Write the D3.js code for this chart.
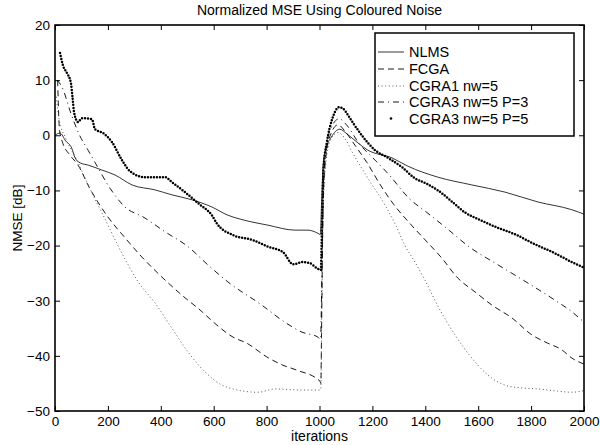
<!DOCTYPE html>
<html>
<head>
<meta charset="utf-8">
<script src="https://cdn.jsdelivr.net/npm/d3@7"></script>
<style>
  body { margin: 0; background: #fff; }
  svg { display: block; font-family: "Liberation Sans", Arial, sans-serif; }
</style>
</head>
<body>
<div id="chart"></div>
<script>
// series values: [iteration, NMSE dB]
var nlms = [[0,0],[19,0.4],[40,-1],[63,-2.3],[76,-4.1],[95,-5],[125,-5.4],[177,-6.3],[227,-7.2],[291,-9],[378,-9.9],[442,-10.8],
  [518,-11.7],[593,-13],[654,-14.5],[700,-15.2],[805,-16.3],[907,-17.2],[956,-17.2],[995,-17.8],[1003,-18],
  [1008,-12],[1013,-6],[1022,-2.8],[1045,-0.3],[1077,1.1],[1100,0.4],[1123,-0.5],[1183,-2.7],[1274,-4.1],[1334,-5.6],
  [1448,-7.6],[1576,-9],[1701,-10.3],[1826,-12.1],[1954,-13.5],[2000,-14.3]];

var fcga = [[10,10],[13,5],[17,1],[30,-1.5],[55,-3.5],[87,-5.4],[130,-9.5],[200,-14.8],[265,-18.6],[329,-22.1],[404,-25.7],
  [480,-29],[556,-32],[597,-33.8],[673,-36.6],[725,-37.7],[801,-40.2],[862,-41.7],[915,-42.6],[1002,-44.6],[1005,-45],
  [1009,-30],[1014,-12],[1024,-4],[1045,0.5],[1070,1.9],[1100,0.5],[1134,-1.8],[1180,-5],[1230,-9],[1280,-12.5],
  [1342,-16],[1400,-19],[1463,-22.3],[1523,-25.9],[1588,-28.4],[1652,-30.8],[1727,-33.1],[1803,-36.2],[1863,-37.7],
  [1916,-38.9],[1954,-40.4],[2000,-41.5]];

var cgra1 = [[5,7],[15,3],[40,-0.5],[83,-4.5],[130,-9.5],[182,-14.5],[253,-21.4],[315,-26.6],[378,-30.4],[442,-35],
  [503,-39.3],[567,-42.9],[631,-45.3],[673,-46],[767,-46.6],[832,-46],[934,-46.2],[1002,-46.2],[1005,-46],
  [1009,-30],[1014,-14],[1024,-5],[1045,-0.5],[1070,0.5],[1095,-0.5],[1123,-3],[1183,-7.8],[1247,-12.6],[1290,-16.5],
  [1323,-20],[1361,-23],[1398,-26.2],[1448,-31],[1512,-36.2],[1576,-40.4],[1637,-43.5],[1701,-45.3],[1760,-45.8],
  [1826,-46],[1900,-46.4],[1954,-46.6],[2000,-46.3]];

var cgra3p3 = [[8,10],[26,8.8],[60,4],[90,0.3],[125,-2.7],[151,-4.9],[208,-9.6],[260,-12.8],[340,-15],[416,-17.5],
  [503,-20.2],[578,-23.5],[654,-26.6],[782,-30.8],[869,-33.9],[934,-35.7],[994,-36.6],[1004,-37],
  [1009,-25],[1014,-10],[1024,-3],[1045,1.5],[1075,3],[1100,2],[1150,-1.5],[1210,-4.5],[1260,-7],[1340,-11.5],
  [1406,-14],[1474,-16.6],[1568,-20.3],[1675,-23.5],[1788,-26.8],[1890,-29.9],[1954,-32],[2000,-33.9]];

var cgra3p5 = [[19,14.9],[30,12.7],[45,11.3],[60,9.5],[66,7],[72,4.2],[87,2.4],[102,3.1],[140,2.9],[151,1.1],[182,0.4],
  [215,-1.2],[253,-4.5],[283,-6.5],[340,-7.6],[378,-7.6],[416,-7.6],[442,-8.5],[491,-10.3],[548,-12.6],[593,-14.5],
  [612,-16],[673,-18.1],[748,-19],[805,-20.2],[862,-21.2],[900,-23.4],[934,-23],[964,-23.2],[990,-24.1],[1005,-24.4],
  [1010,-15],[1015,-6],[1028,-1.2],[1047,2.8],[1058,4.2],[1073,5.1],[1090,4.8],[1107,3.7],[1130,2],[1160,0],
  [1210,-2.7],[1259,-4.1],[1312,-5.8],[1361,-7.8],[1406,-8.8],[1448,-10],[1500,-12],[1550,-14],[1600,-15.2],
  [1675,-16.8],[1746,-18.1],[1803,-19.5],[1890,-21.4],[1954,-23],[2000,-24]];

var xTicks = [0, 200, 400, 600, 800, 1000, 1200, 1400, 1600, 1800, 2000];
var yTicks = [-50, -40, -30, -20, -10, 0, 10, 20];
var legendLabels = ['NLMS', 'FCGA', 'CGRA1 nw=5', 'CGRA3 nw=5 P=3', 'CGRA3 nw=5 P=5'];

var width = 600, height = 445;
var plotLeft = 55, plotRight = 584, plotTop = 25, plotBottom = 411;

var svg = d3.select('#chart').append('svg')
  .attr('width', width)
  .attr('height', height);

var x = d3.scaleLinear().domain([0, 2000]).range([plotLeft, plotRight]);
var y = d3.scaleLinear().domain([-50, 20]).range([plotBottom, plotTop]);

// line styles, same order as the legend
var styles = [
  {data: nlms, dash: null, w: 0.8, color: '#000'},
  {data: fcga, dash: '6 4', w: 0.9, color: '#000'},
  {data: cgra1, dash: '1 2.6', w: 1, color: '#555'},
  {data: cgra3p3, dash: '6 4 1 4', w: 0.9, color: '#000'},
  {data: cgra3p5, dash: '0 3', w: 2.5, color: '#000', dots: true}
];

var line = d3.line()
  .x(function(d) { return x(d[0]); })
  .y(function(d) { return y(d[1]); })
  .curve(d3.curveMonotoneX);

var plot = svg.append('g');
styles.forEach(function(s) {
  plot.append('path')
    .attr('d', line(s.data))
    .attr('fill', 'none')
    .attr('stroke', s.color)
    .attr('stroke-width', s.w)
    .attr('stroke-dasharray', s.dash)
    .attr('stroke-linecap', s.dots ? 'round' : 'butt')
    .attr('stroke-linejoin', 'round');
});

// axes, ticks inside on all four sides
var fmt = d3.format('d');
var gx = svg.append('g')
  .attr('transform', 'translate(0,' + plotBottom + ')')
  .call(d3.axisBottom(x).tickValues(xTicks).tickSizeInner(-5).tickSizeOuter(0).tickPadding(5.5).tickFormat(fmt));
var gy = svg.append('g')
  .attr('transform', 'translate(' + plotLeft + ',0)')
  .call(d3.axisLeft(y).tickValues(yTicks).tickSizeInner(-5).tickSizeOuter(0).tickPadding(5).tickFormat(fmt));
var gt = svg.append('g')
  .attr('transform', 'translate(0,' + plotTop + ')')
  .call(d3.axisTop(x).tickValues(xTicks).tickSizeInner(-5).tickSizeOuter(0).tickFormat(''));
var gr = svg.append('g')
  .attr('transform', 'translate(' + plotRight + ',0)')
  .call(d3.axisRight(y).tickValues(yTicks).tickSizeInner(-5).tickSizeOuter(0).tickFormat(''));

[gx, gy, gt, gr].forEach(function(g) {
  g.select('.domain').remove();
  g.selectAll('line').attr('stroke', '#000').attr('stroke-width', 1);
  g.selectAll('text').attr('fill', '#000').style('font-size', '13.5px')
    .style('font-family', '"Liberation Sans", Arial, sans-serif');
});

svg.append('rect')
  .attr('x', plotLeft).attr('y', plotTop)
  .attr('width', plotRight - plotLeft).attr('height', plotBottom - plotTop)
  .attr('fill', 'none').attr('stroke', '#000').attr('stroke-width', 1.6);

// titles
svg.append('text')
  .attr('x', (plotLeft + plotRight) / 2).attr('y', 15)
  .attr('text-anchor', 'middle')
  .style('font-size', '14px')
  .text('Normalized MSE Using Coloured Noise');
svg.append('text')
  .attr('x', (plotLeft + plotRight) / 2).attr('y', 441)
  .attr('text-anchor', 'middle')
  .style('font-size', '14px')
  .text('iterations');
svg.append('text')
  .attr('transform', 'translate(22,' + (plotTop + plotBottom) / 2 + ') rotate(-90)')
  .attr('text-anchor', 'middle')
  .style('font-size', '13.5px')
  .text('NMSE [dB]');

// legend
var lg = svg.append('g');
lg.append('rect')
  .attr('x', 375).attr('y', 33)
  .attr('width', 199).attr('height', 103)
  .attr('fill', '#fff').attr('stroke', '#000').attr('stroke-width', 1.5);

var rowY = [52, 69, 86, 102, 118.5];
legendLabels.forEach(function(label, i) {
  var s = styles[i];
  if (s.dots) {
    lg.append('circle')
      .attr('cx', 391).attr('cy', rowY[i])
      .attr('r', 1.3).attr('fill', '#000');
  } else {
    lg.append('line')
      .attr('x1', 378).attr('x2', 404)
      .attr('y1', rowY[i]).attr('y2', rowY[i])
      .attr('stroke', s.color)
      .attr('stroke-width', s.w)
      .attr('stroke-dasharray', s.dash);
  }
  lg.append('text')
    .attr('x', 409).attr('y', rowY[i] + 5)
    .style('font-size', '14.5px')
    .text(label);
});
</script>
</body>
</html>
